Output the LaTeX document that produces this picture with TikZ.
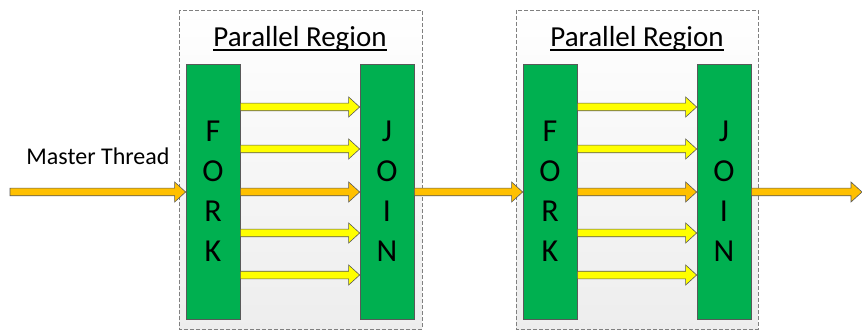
\documentclass[tikz,border=0pt]{standalone}
\usepackage{fontspec}
\setmainfont{Carlito}
\usetikzlibrary{calc}
\definecolor{offgreen}{HTML}{00B050}
\definecolor{threadyellow}{HTML}{FFFF00}
\definecolor{threadorange}{HTML}{FFC000}
\definecolor{edgegray}{HTML}{595959}
\definecolor{dashgray}{HTML}{808080}
\tikzset{
  region/.style={draw=dashgray, dash pattern=on 4pt off 2pt, line width=0.8pt,
    top color=white, bottom color=black!7, shading angle=0},
  bar/.style={draw=edgegray, line width=0.7pt, fill=offgreen, minimum width=54pt,
    minimum height=255pt, inner sep=0pt, align=center,
    font=\fontsize{32}{40}\selectfont},
  title/.style={font=\fontsize{29}{32}\selectfont, inner sep=0pt, anchor=base},
  rule/.style={line width=1.6pt},
  % block arrow between two points at the height of the start point
  fat/.style={draw=edgegray, line width=0.6pt, line join=miter,
    to path={let \p1=(\tikztostart), \p2=(\tikztotarget) in
      (\x1,\y1+3.8pt) -- (\x2-11pt,\y1+3.8pt) -- (\x2-11pt,\y1+10pt) -- (\x2,\y1)
      -- (\x2-11pt,\y1-10pt) -- (\x2-11pt,\y1-3.8pt) -- (\x1,\y1-3.8pt) -- cycle}},
  worker/.style={fat, fill=threadyellow},
  master/.style={fat, fill=threadorange},
}
\begin{document}
\begin{tikzpicture}[x=1pt, y=-1pt]
\useasboundingbox (0,0) rectangle (862,331);

% parallel region frames
\path[region] (179,10) rectangle (422,329);
\path[region] (516,10) rectangle (758,329);
\node[title] (t1) at (300,47) {Parallel Region};
\node[title] (t2) at (637,47) {Parallel Region};
\draw[rule] ([yshift=-3.2pt]t1.base west) -- ([yshift=-3.2pt]t1.base east);
\draw[rule] ([yshift=-3.2pt]t2.base west) -- ([yshift=-3.2pt]t2.base east);

% fork / join bars
\node[bar] (fork1) at (213,191.5) {F\\O\\R\\K};
\node[bar] (join1) at (387,191.5) {J\\O\\I\\N};
\node[bar] (fork2) at (550,191.5) {F\\O\\R\\K};
\node[bar] (join2) at (724,191.5) {J\\O\\I\\N};

% master thread
\node[font=\fontsize{24}{28}\selectfont, inner sep=0pt, anchor=base] (mlabel) at (98,165) {Master Thread};
\coordinate (start) at (10,192);
\coordinate (finish) at (862,192);
\draw[master] (start) to (fork1.west |- start);
\draw[master] (join1.east |- start) to (fork2.west |- start);
\draw[master] (join2.east |- start) to (finish);

% worker threads inside each region
\foreach \fk/\jn in {fork1/join1, fork2/join2} {
  \foreach \ty in {107,149,233,275} {
    \coordinate (a) at (0,\ty);
    \draw[worker] (\fk.east |- a) to (\jn.west |- a);
  }
  \draw[master] (\fk.east |- start) to (\jn.west |- start);
}
\end{tikzpicture}
\end{document}
